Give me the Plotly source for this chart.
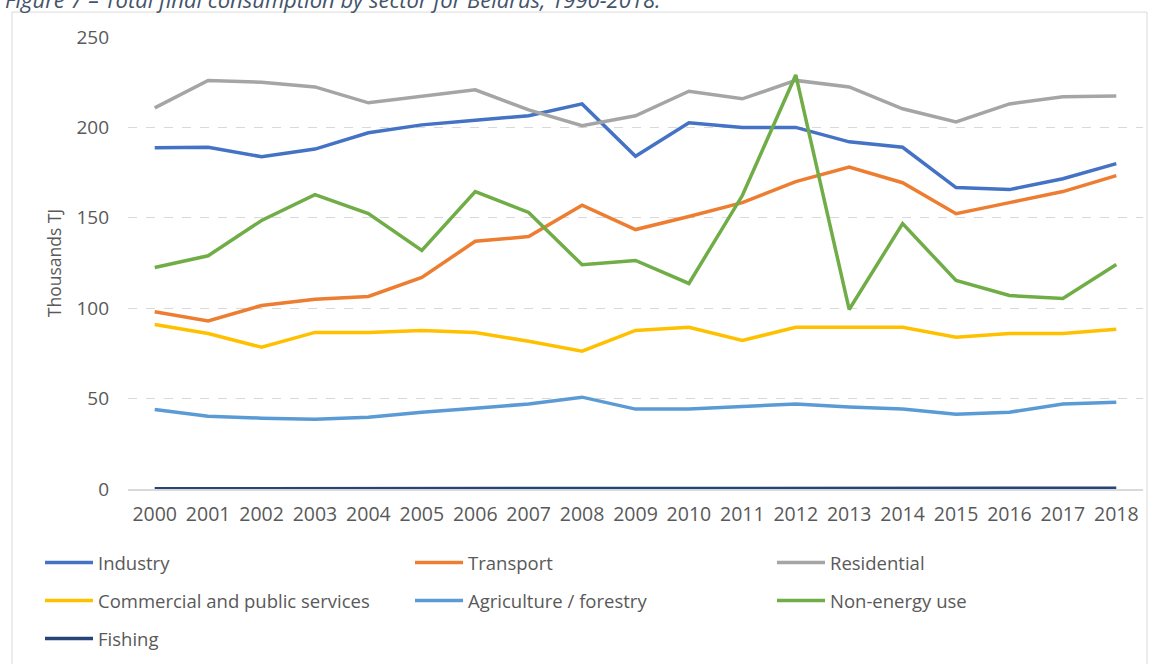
import plotly.graph_objects as go

years = list(range(2000, 2019))

industry = [188.7, 189, 183.8, 188, 197, 201.4, 204, 206.4, 213, 184, 202.5, 200, 200, 192, 189, 166.7, 165.6, 171.6, 180]
transport = [98, 93, 101.5, 105, 106.5, 117, 137, 139.6, 157, 143.5, 150.7, 158.4, 170, 178, 169.4, 152.3, 158.4, 164.5, 173.3]
residential = [210.8, 226, 225, 222.4, 213.6, 217, 220.8, 209.7, 200.9, 206.4, 220, 215.8, 226, 222.4, 210.3, 203, 213, 217, 217.4]
commercial = [91, 86, 78.4, 86.6, 86.6, 87.7, 86.6, 81.7, 76.2, 87.7, 89.4, 82.2, 89.4, 89.4, 89.4, 83.9, 86, 86, 88.3]
agriculture = [44, 40.3, 39.2, 38.6, 39.7, 42.5, 44.7, 47, 50.8, 44.2, 44.2, 45.8, 47, 45.3, 44.2, 41.4, 42.5, 47, 48]
non_energy = [122.5, 129, 148.5, 162.8, 152.3, 132, 164.5, 153, 124, 126.4, 113.7, 162.3, 229, 99.3, 146.8, 115.3, 107, 105.4, 124.2]
fishing = [0.1, 0.1, 0.1, 0.1, 0.1, 0.1, 0.1, 0.1, 0.2, 0.4, 0.4, 0.4, 0.4, 0.4, 0.4, 0.4, 0.4, 0.4, 0.4]

y_ticks = [0, 50, 100, 150, 200, 250]

names = ["Industry", "Transport", "Residential", "Commercial and public services",
         "Agriculture / forestry", "Non-energy use", "Fishing"]
values = [industry, transport, residential, commercial, agriculture, non_energy, fishing]
colors = ["#4472C4", "#ED7D31", "#A5A5A5", "#FFC000", "#5B9BD5", "#70AD47", "#264478"]

FONT = "Open Sans"
GREY = "#595959"

W, H = 1150, 664
ml, mr, mt, mb = 128, 7, 37, 174
pw = W - ml - mr
ph = H - mt - mb

def px_x(x):
    return (x - ml) / pw

def px_y(y):
    return (H - mb - y) / ph

# legend grid: 3 columns x 3 rows, one legend per entry
col_x = [40, 410, 772]
row_y = [563, 601, 639]

fig = go.Figure()
legends = {}
for i, (name, vals, color) in enumerate(zip(names, values, colors)):
    key = "legend" if i == 0 else f"legend{i + 1}"
    fig.add_trace(go.Scatter(
        x=years, y=vals, name=name, mode="lines",
        line=dict(color=color, width=3.5),
        legend=key,
    ))
    legends[key] = dict(
        x=px_x(col_x[i % 3]), y=px_y(row_y[i // 3]),
        xanchor="left", yanchor="middle", orientation="v",
        font=dict(family=FONT, size=18.5, color=GREY),
        itemwidth=48, bgcolor="rgba(0,0,0,0)",
    )

fig.update_layout(
    width=W, height=H,
    margin=dict(l=ml, r=mr, t=mt, b=mb),
    paper_bgcolor="white", plot_bgcolor="white",
    font=dict(family=FONT, color=GREY),
    xaxis=dict(
        range=[1999.5, 2018.5], tickmode="array", tickvals=years,
        ticktext=[str(y) for y in years],
        showgrid=False, zeroline=False,
        showline=True, linecolor="#D9D9D9", linewidth=1.5,
        ticks="", tickfont=dict(family=FONT, size=19.5, color=GREY),
        ticklabelstandoff=7,
    ),
    yaxis=dict(
        range=[0, 250], tickmode="array", tickvals=y_ticks,
        showgrid=True, gridcolor="#D9D9D9", griddash="dash", gridwidth=1,
        zeroline=False, showline=False, ticks="",
        tickfont=dict(family=FONT, size=19, color=GREY),
        ticklabelstandoff=18,
        title=dict(text="Thousands TJ", font=dict(family=FONT, size=17.5, color=GREY), standoff=10),
    ),
    showlegend=True,
    **legends,
)

fig.add_shape(type="rect", xref="paper", yref="paper",
              x0=px_x(12), x1=px_x(1147), y0=px_y(700), y1=px_y(12),
              line=dict(color="#D9D9D9", width=1), fillcolor="rgba(0,0,0,0)", layer="below")

fig.add_annotation(
    text="Figure 7 – Total final consumption by sector for Belarus, 1990-2018.",
    xref="paper", yref="paper", x=px_x(3), y=px_y(-1), xanchor="left", yanchor="middle",
    showarrow=False, font=dict(family=FONT, size=22, color="#44546A", style="italic"),
)

fig.write_html("out.html")
